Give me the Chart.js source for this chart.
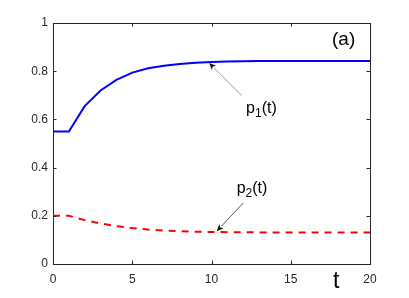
<!DOCTYPE html>
<html>
<head>
<meta charset="utf-8">
<script src="https://cdn.jsdelivr.net/npm/chart.js@4/dist/chart.umd.min.js"></script>
<style>
html,body{margin:0;padding:0;background:#fff;}
#wrap{width:409px;height:298px;position:relative;}
</style>
</head>
<body>
<div id="wrap"><canvas id="c" width="409" height="298"></canvas></div>
<script>
const t = [0,1,2,3,4,5,6,7,8,9,10,11,12,13,14,15,16,17,18,19,20];
const p1 = [0.55,0.55,0.655,0.72,0.764,0.794,0.812,0.823,0.830,0.835,0.838,0.840,0.841,0.842,0.842,0.842,0.842,0.842,0.842,0.842,0.842];
const p2 = [0.2,0.2,0.182,0.168,0.157,0.149,0.143,0.139,0.136,0.134,0.133,0.132,0.132,0.131,0.131,0.131,0.131,0.131,0.131,0.131,0.131];
const xTicks = [0,5,10,15,20];
const yTicks = [0,0.2,0.4,0.6,0.8,1];

const FONT = '"Liberation Sans", Arial, Helvetica, sans-serif';
const AX = '#262626';

// annotation placement (data coordinates)
const notes = [
  {base:'p', sub:'1', rest:'(t)', tx:12.18, ty:0.627, ax0:11.9, ay0:0.70, ax1:9.85, ay1:0.834, lineColor:'#7f7f7f'},
  {base:'p', sub:'2', rest:'(t)', tx:11.59, ty:0.296, ax0:12.0, ay0:0.253, ax1:10.33, ay1:0.136, lineColor:'#333333'}
];

function drawSubText(ctx, x, y, n) {
  ctx.fillStyle = '#000';
  ctx.textBaseline = 'alphabetic';
  ctx.textAlign = 'left';
  ctx.font = '16px ' + FONT;
  ctx.fillText(n.base, x, y);
  let w = ctx.measureText(n.base).width;
  ctx.font = '12px ' + FONT;
  ctx.fillText(n.sub, x + w, y + 4);
  let w2 = ctx.measureText(n.sub).width;
  ctx.font = '16px ' + FONT;
  ctx.fillText(n.rest, x + w + w2, y);
}

function drawArrow(ctx, x0, y0, x1, y1, color) {
  ctx.save();
  ctx.strokeStyle = color;
  ctx.lineWidth = 0.8;
  const ang = Math.atan2(y1 - y0, x1 - x0);
  const hl = 7, hw = 3;
  const bx = x1 - hl * Math.cos(ang), by = y1 - hl * Math.sin(ang);
  ctx.beginPath();
  ctx.moveTo(x0, y0);
  ctx.lineTo(bx, by);
  ctx.stroke();
  ctx.fillStyle = '#111';
  ctx.beginPath();
  ctx.moveTo(x1, y1);
  ctx.lineTo(bx + hw * Math.sin(ang), by - hw * Math.cos(ang));
  ctx.lineTo(x1 - (hl - 2) * Math.cos(ang), y1 - (hl - 2) * Math.sin(ang));
  ctx.lineTo(bx - hw * Math.sin(ang), by + hw * Math.cos(ang));
  ctx.closePath();
  ctx.fill();
  ctx.restore();
}

const extras = {
  id: 'extras',
  afterDatasetsDraw(chart) {
    const ctx = chart.ctx;
    const xs = chart.scales.x, ys = chart.scales.y;
    const a = chart.chartArea;
    ctx.save();
    // inward ticks on all four sides
    ctx.strokeStyle = AX;
    ctx.lineWidth = 1;
    const tl = 3.5;
    xTicks.forEach(v => {
      const px = Math.round(xs.getPixelForValue(v)) + 0.5;
      ctx.beginPath();
      ctx.moveTo(px, a.bottom); ctx.lineTo(px, a.bottom - tl);
      ctx.moveTo(px, a.top); ctx.lineTo(px, a.top + tl);
      ctx.stroke();
    });
    yTicks.forEach(v => {
      const py = Math.round(ys.getPixelForValue(v)) + 0.5;
      ctx.beginPath();
      ctx.moveTo(a.left, py); ctx.lineTo(a.left + tl, py);
      ctx.moveTo(a.right, py); ctx.lineTo(a.right - tl, py);
      ctx.stroke();
    });
    // annotations
    notes.forEach(n => {
      drawArrow(ctx, xs.getPixelForValue(n.ax0), ys.getPixelForValue(n.ay0),
                xs.getPixelForValue(n.ax1), ys.getPixelForValue(n.ay1), n.lineColor);
      drawSubText(ctx, xs.getPixelForValue(n.tx), ys.getPixelForValue(n.ty), n);
    });
    // panel label
    ctx.fillStyle = '#000';
    ctx.font = '19px ' + FONT;
    ctx.textAlign = 'left';
    ctx.textBaseline = 'alphabetic';
    ctx.fillText('(a)', a.right - 38, a.top + 22);
    // axis label t
    ctx.font = '23px ' + FONT;
    ctx.fillText('t', a.right - 37, a.bottom + 24);
    ctx.restore();
  }
};

new Chart(document.getElementById('c'), {
  type: 'line',
  data: {
    datasets: [
      {data: t.map((v,i)=>({x:v, y:p1[i]})), borderColor:'#0000ff', borderWidth:2, pointRadius:0, tension:0, fill:false},
      {data: t.map((v,i)=>({x:v, y:p2[i]})), borderColor:'#ff0000', borderWidth:2, borderDash:[7,6], pointRadius:0, tension:0, fill:false}
    ]
  },
  options: {
    responsive: false,
    animation: false,
    events: [],
    layout: {padding: 0},
    plugins: {legend:{display:false}, tooltip:{enabled:false}},
    scales: {
      x: {
        type:'linear', position:'bottom', min:0, max:20,
        afterBuildTicks: s => { s.ticks = xTicks.map(v=>({value:v})); },
        afterFit: s => { s.height = 34; },
        grid:{display:false, drawTicks:false},
        border:{display:true, color:AX, width:1},
        ticks:{color:AX, font:{family:FONT, size:12}, padding:8, maxRotation:0, autoSkip:false}
      },
      x2: {
        type:'linear', position:'top', min:0, max:20,
        afterFit: s => { s.height = 23; },
        grid:{display:false, drawTicks:false},
        border:{display:true, color:AX, width:1},
        ticks:{display:false}
      },
      y: {
        type:'linear', position:'left', min:0, max:1,
        afterBuildTicks: s => { s.ticks = yTicks.map(v=>({value:v})); },
        afterFit: s => { s.width = 53; },
        grid:{display:false, drawTicks:false},
        border:{display:true, color:AX, width:1},
        ticks:{color:AX, font:{family:FONT, size:12}, padding:5, callback: v => String(v)}
      },
      y2: {
        type:'linear', position:'right', min:0, max:1,
        afterFit: s => { s.width = 39; },
        grid:{display:false, drawTicks:false},
        border:{display:true, color:AX, width:1},
        ticks:{display:false}
      }
    }
  },
  plugins: [extras]
});
</script>
</body>
</html>
